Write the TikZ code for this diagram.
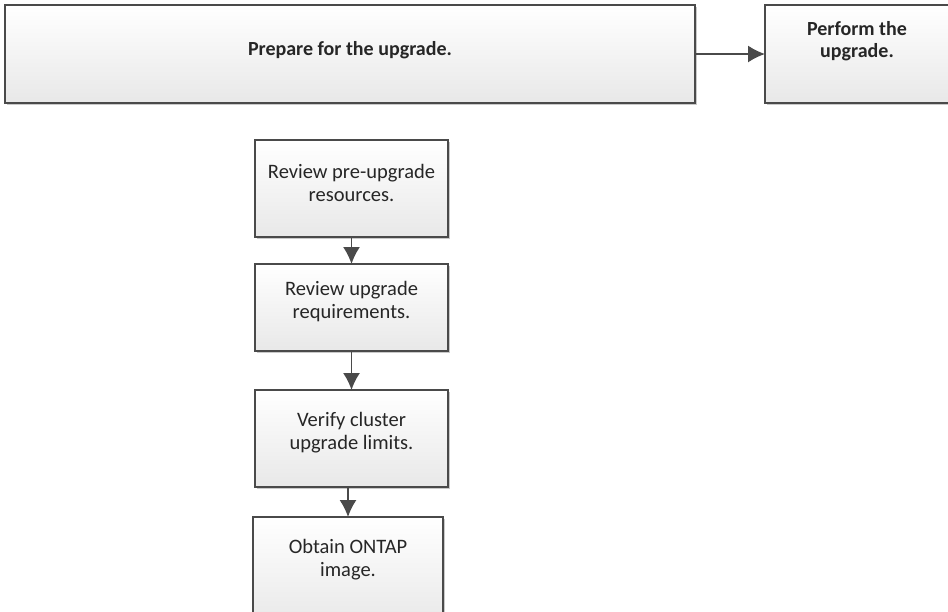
\documentclass[tikz,border=0pt]{standalone}
\usepackage{fontspec}
\setmainfont{Carlito}
\usetikzlibrary{arrows.meta,shadows}
\definecolor{edge}{HTML}{4A4A4A}
\tikzset{
  box/.style={draw=edge, line width=1.4pt, top color=white, bottom color=black!9,
    drop shadow={shadow xshift=1.5pt, shadow yshift=-1.8pt, opacity=0.35, fill=black!60},
    inner sep=0pt, outer sep=0pt},
  toptext/.style={font=\fontsize{20}{22}\selectfont\bfseries, align=center, text=black!85},
  lowtext/.style={font=\fontsize{20.5}{23}\selectfont, align=center, text=black!85},
  conn/.style={draw=edge, line width=1.6pt, -{Latex[length=17pt,width=17pt]}}
}
\begin{document}
\begin{tikzpicture}[x=1pt,y=-1pt]
\useasboundingbox[fill=white] (0,0) rectangle (948,611);
\node[box, minimum width=690pt, minimum height=98pt,
  label={[toptext, yshift=4pt]center:Prepare for the upgrade.}] (prep) at (350,54) {};
\node[box, minimum width=184pt, minimum height=98pt,
  label={[toptext, yshift=13pt]center:Perform the\\upgrade.}] (perf) at (857,54) {};
\node[box, minimum width=193pt, minimum height=97pt,
  label={[lowtext, yshift=6pt]center:Review pre-upgrade\\resources.}] (r1) at (351.5,188.5) {};
\node[box, minimum width=193pt, minimum height=87pt,
  label={[lowtext, yshift=6pt]center:Review upgrade\\requirements.}] (r2) at (351.5,307.5) {};
\node[box, minimum width=193pt, minimum height=97pt,
  label={[lowtext, yshift=6pt]center:Verify cluster\\upgrade limits.}] (r3) at (351.5,438.5) {};
\node[box, minimum width=190pt, minimum height=110pt,
  label={[lowtext, yshift=12pt]center:Obtain ONTAP\\image.}] (r4) at (348,572) {};
\draw[conn] (prep.east) -- (perf.west);
\draw[conn] (r1.south) -- (r2.north);
\draw[conn] (r2.south) -- (r3.north);
\draw[conn] (r4.north |- r3.south) -- (r4.north);
\end{tikzpicture}
\end{document}
